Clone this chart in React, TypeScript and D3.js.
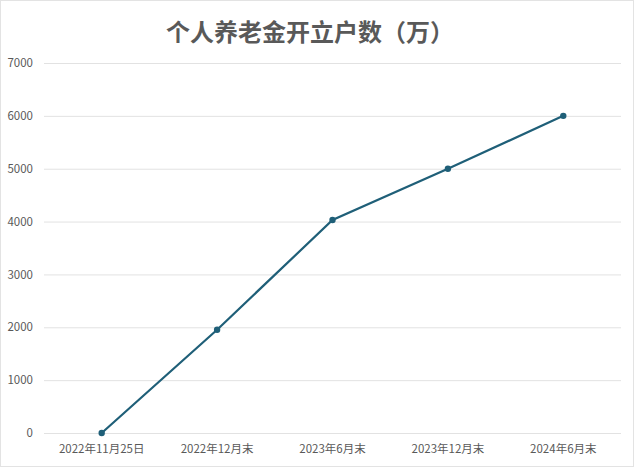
import * as d3 from "d3";
import { useEffect, useRef } from "react";

const categories = ["2022年11月25日", "2022年12月末", "2023年6月末", "2023年12月末", "2024年6月末"];
const accounts = [0, 1954, 4030, 5000, 6000];
const yTicks = [0, 1000, 2000, 3000, 4000, 5000, 6000, 7000];
const title = "个人养老金开立户数（万）";

const FONT = "'Noto Sans CJK SC', 'Noto Sans', sans-serif";

function PensionChart() {
  const ref = useRef<SVGSVGElement>(null);

  useEffect(() => {
    const svg = d3.select(ref.current);
    const width = 634;
    const height = 467;
    const margin = { top: 63, right: 13, bottom: 34, left: 44 };

    svg.selectAll("*").remove();

    svg
      .append("rect")
      .attr("x", 0.5)
      .attr("y", 0.5)
      .attr("width", width - 1)
      .attr("height", height - 1)
      .attr("fill", "#fff")
      .attr("stroke", "#e3e3e3");

    svg
      .append("text")
      .attr("x", 310)
      .attr("y", 41)
      .attr("text-anchor", "middle")
      .attr("font-family", FONT)
      .attr("font-size", 24)
      .attr("font-weight", "bold")
      .attr("fill", "#595959")
      .text(title);

    const x = d3
      .scaleBand()
      .domain(categories)
      .range([margin.left, width - margin.right]);

    const y = d3
      .scaleLinear()
      .domain([0, 7000])
      .range([height - margin.bottom, margin.top]);

    // gridlines + y labels
    const yAxis = svg
      .append("g")
      .attr("transform", `translate(${margin.left},0)`)
      .call(
        d3
          .axisLeft(y)
          .tickValues(yTicks)
          .tickSize(-(width - margin.left - margin.right))
          .tickPadding(11)
          .tickFormat((d) => String(d)),
      );
    yAxis.select(".domain").remove();
    yAxis.selectAll(".tick line").attr("stroke", "#e2e2e2").attr("stroke-width", 1);
    yAxis
      .selectAll(".tick text")
      .attr("font-family", FONT)
      .attr("font-size", 11.5)
      .attr("fill", "#595959");

    const xAxis = svg
      .append("g")
      .attr("transform", `translate(0,${height - margin.bottom})`)
      .call(d3.axisBottom(x).tickSize(0).tickPadding(12));
    xAxis.select(".domain").remove();
    xAxis
      .selectAll(".tick text")
      .attr("font-family", FONT)
      .attr("font-size", 11.5)
      .attr("fill", "#595959");

    const points = categories.map((c, i) => ({ c, v: accounts[i] }));
    const cx = (d: { c: string }) => (x(d.c) ?? 0) + x.bandwidth() / 2;

    const line = d3
      .line<{ c: string; v: number }>()
      .x(cx)
      .y((d) => y(d.v));

    svg
      .append("path")
      .datum(points)
      .attr("fill", "none")
      .attr("stroke", "#1f5f78")
      .attr("stroke-width", 2.2)
      .attr("d", line);

    svg
      .selectAll("circle.pt")
      .data(points)
      .join("circle")
      .attr("class", "pt")
      .attr("cx", cx)
      .attr("cy", (d) => y(d.v))
      .attr("r", 3.2)
      .attr("fill", "#1f5f78");
  }, []);

  return (
    <svg
      ref={ref}
      width={634}
      height={467}
      style={{ position: "absolute", left: 0, top: 0 }}
    />
  );
}

export default function App() {
  return <PensionChart />;
}
